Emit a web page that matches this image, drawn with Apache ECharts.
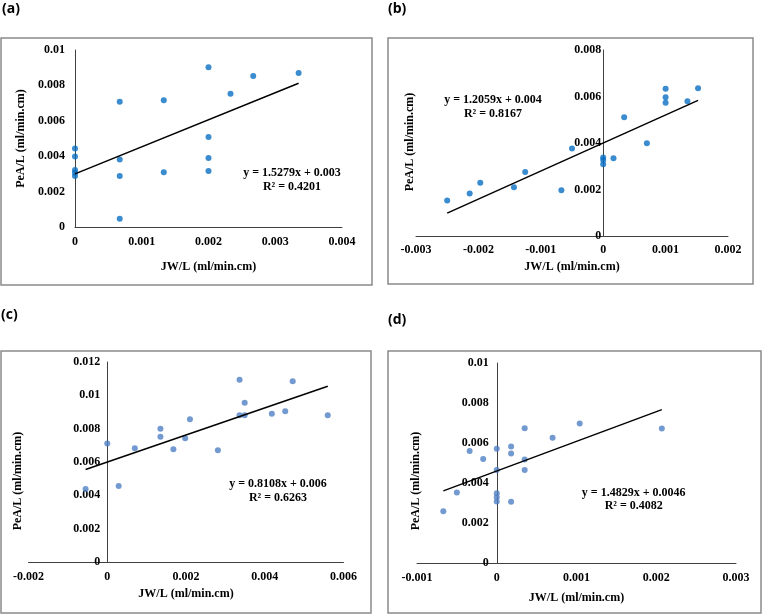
<!DOCTYPE html>
<html>
<head>
<meta charset="utf-8">
<style>html,body{margin:0;padding:0;background:#fff}#chart{width:762px;height:615px}</style>
<script src="https://cdn.jsdelivr.net/npm/echarts@6/dist/echarts.min.js"></script>
</head>
<body>
<div id="chart"></div>
<script>
// ---- data ----
const panelLabels = ['(a)', '(b)', '(c)', '(d)'];
const xTitle = 'JW/L (ml/min.cm)';
const yTitle = 'PeA/L (ml/min.cm)';

const aX = [0, 0, 0, 0, 0, 0.00067, 0.00067, 0.00067, 0.00067, 0.00133, 0.00133, 0.002, 0.002, 0.002, 0.002, 0.00233, 0.00267, 0.00335];
const aY = [0.00444, 0.00399, 0.00322, 0.00307, 0.00288, 0.00708, 0.00382, 0.00288, 0.00047, 0.00716, 0.00309, 0.00902, 0.00508, 0.0039, 0.00316, 0.00753, 0.00853, 0.0087];

const bX = [-0.0025, -0.00214, -0.00197, -0.00143, -0.00125, -0.00067, -0.0005, 0, 0, 0, 0.000165, 0.000336, 0.0007, 0.001, 0.001, 0.001, 0.00135, 0.00152];
const bY = [0.00153, 0.00183, 0.00229, 0.0021, 0.00275, 0.00197, 0.00376, 0.00338, 0.00327, 0.00309, 0.00334, 0.00511, 0.00399, 0.00633, 0.00597, 0.00573, 0.0058, 0.00635];

const cX = [-0.00055, 0, 0.00029, 0.0007, 0.00135, 0.00135, 0.00168, 0.00198, 0.0021, 0.00281, 0.00336, 0.00336, 0.00349, 0.00349, 0.00418, 0.00452, 0.00471, 0.0056];
const cY = [0.00438, 0.00711, 0.00456, 0.00683, 0.00799, 0.00751, 0.00677, 0.00743, 0.00857, 0.00671, 0.01094, 0.0088, 0.00956, 0.0088, 0.0089, 0.00904, 0.01084, 0.00881];

const dX = [-0.00067, -0.0005, -0.00034, -0.00017, 0, 0, 0, 0, 0, 0.00018, 0.00018, 0.00018, 0.00035, 0.00035, 0.00035, 0.0007, 0.00104, 0.00207];
const dY = [0.00259, 0.00352, 0.0056, 0.0052, 0.00571, 0.00465, 0.00349, 0.00329, 0.00307, 0.00583, 0.00547, 0.00306, 0.00674, 0.00518, 0.00465, 0.00626, 0.00698, 0.00673];

const trendSlope = [1.5279, 1.2059, 0.8108, 1.4829];
const trendIntercept = [0.003, 0.004, 0.006, 0.0046];
const equationText = ['y = 1.5279x + 0.003', 'y = 1.2059x + 0.004', 'y = 0.8108x + 0.006', 'y = 1.4829x + 0.0046'];
const r2Text = ['R² = 0.4201', 'R² = 0.8167', 'R² = 0.6263', 'R² = 0.4082'];

// axis ranges / tick steps
const xMin = [0, -0.003, -0.002, -0.001];
const xMax = [0.004, 0.002, 0.006, 0.003];
const xStep = [0.001, 0.001, 0.002, 0.001];
const yMin = [0, 0, 0, 0];
const yMax = [0.01, 0.008, 0.012, 0.01];
const yStep = [0.002, 0.002, 0.002, 0.002];

// ---- layout / style ----
const xs = [aX, bX, cX, dX];
const ys = [aY, bY, cY, dY];
const grids = [
  {left: 75, top: 50, width: 267, height: 177},
  {left: 416, top: 50, width: 312, height: 186},
  {left: 28.5, top: 362, width: 315, height: 200},
  {left: 417, top: 363, width: 319, height: 200}
];
const frames = [
  [1, 38, 371, 247], [388, 38, 365, 246], [1, 351, 370, 262], [388, 351, 373, 262]
];
const dotColors = ['#0a6fc2', '#0a6fc2', '#4f80c4', '#4f80c4'];
const xLabelMargin = [9, 8, 9, 9];
const yLabelMargin = [10, 2, 7, 8];
const xNameGap = [34, 25, 26, 29];
const eqPos = [[292, 180], [493, 106.7], [278, 490.7], [633.7, 499.2]];
const panelPos = [[2, 9], [388, 9], [1, 315], [388, 320]];
const yTitlePos = [null, [409.5, 142], [17.5, 481], [415.5, 481]];

const serif = '"Liberation Serif", "Times New Roman", serif';
const fmt = v => String(+v.toFixed(4));
const axisLineColor = '#404040';

// the vertical axis crosses the horizontal one at x = 0 (Excel style)
const yAxisOffset = grids.map((g, i) => -((0 - xMin[i]) / (xMax[i] - xMin[i])) * g.width);

const option = {
  animation: false,
  backgroundColor: '#fff',
  grid: grids.map(g => Object.assign({containLabel: false, outerBoundsMode: 'none'}, g)),
  xAxis: grids.map((g, i) => ({
    type: 'value', gridIndex: i, min: xMin[i], max: xMax[i], interval: xStep[i],
    name: xTitle, nameLocation: 'middle', nameGap: xNameGap[i],
    nameTextStyle: {fontFamily: serif, fontWeight: 'bold', fontSize: 12, color: '#000'},
    axisLine: {show: true, onZero: false, lineStyle: {color: axisLineColor, width: 1}},
    axisTick: {show: false}, splitLine: {show: false},
    axisLabel: {formatter: fmt, margin: xLabelMargin[i], fontFamily: serif, fontWeight: 'bold', fontSize: 12, color: '#000', showMinLabel: true, showMaxLabel: true}
  })),
  yAxis: grids.map((g, i) => ({
    type: 'value', gridIndex: i, min: yMin[i], max: yMax[i], interval: yStep[i],
    position: 'left', offset: yAxisOffset[i],
    name: i === 0 ? yTitle : '', nameLocation: 'middle', nameGap: 48,
    nameTextStyle: {fontFamily: serif, fontWeight: 'bold', fontSize: 12, color: '#000'},
    axisLine: {show: true, onZero: false, lineStyle: {color: axisLineColor, width: 1}},
    axisTick: {show: false}, splitLine: {show: false},
    axisLabel: {formatter: fmt, margin: yLabelMargin[i], fontFamily: serif, fontWeight: 'bold', fontSize: 12, color: '#000', showMinLabel: true, showMaxLabel: true}
  })),
  series: [],
  graphic: []
};

for (let i = 0; i < 4; i++) {
  option.series.push({
    type: 'scatter', xAxisIndex: i, yAxisIndex: i, symbol: 'circle', symbolSize: 6,
    itemStyle: {color: dotColors[i]},
    data: xs[i].map((x, k) => [x, ys[i][k]])
  });
  const lo = Math.min(...xs[i]), hi = Math.max(...xs[i]);
  option.series.push({
    type: 'line', xAxisIndex: i, yAxisIndex: i, symbol: 'none', silent: true,
    lineStyle: {color: '#000', width: 1.5},
    data: [[lo, trendSlope[i] * lo + trendIntercept[i]], [hi, trendSlope[i] * hi + trendIntercept[i]]]
  });
  const f = frames[i];
  option.graphic.push({
    type: 'rect', shape: {x: f[0], y: f[1], width: f[2], height: f[3]},
    style: {fill: 'none', stroke: '#8a8a8a', lineWidth: 1.5}, silent: true
  });
  option.graphic.push({
    type: 'text', x: eqPos[i][0], y: eqPos[i][1],
    style: {text: equationText[i] + '\n' + r2Text[i], align: 'center', verticalAlign: 'middle',
      lineHeight: 13.5, fontFamily: serif, fontWeight: 'bold', fontSize: 12, fill: '#000'}
  });
  option.graphic.push({
    type: 'text', x: panelPos[i][0], y: panelPos[i][1],
    style: {text: panelLabels[i], align: 'left', verticalAlign: 'middle',
      fontFamily: '"Open Sans", "Liberation Sans", sans-serif', fontWeight: 'bold', fontSize: 14, fill: '#000'}
  });
  if (yTitlePos[i]) {
    option.graphic.push({
      type: 'text', x: yTitlePos[i][0], y: yTitlePos[i][1], rotation: Math.PI / 2,
      style: {text: yTitle, align: 'center', verticalAlign: 'middle',
        fontFamily: serif, fontWeight: 'bold', fontSize: 12, fill: '#000'}
    });
  }
}

const chart = echarts.init(document.getElementById('chart'));
chart.setOption(option);
</script>
</body>
</html>
